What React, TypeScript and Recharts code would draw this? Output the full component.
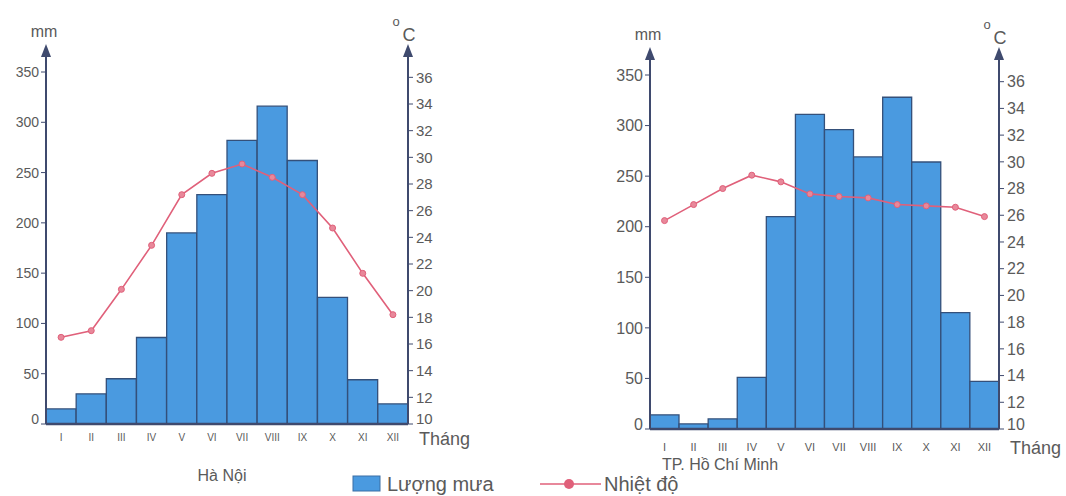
import React from 'react';
import { ComposedChart, Bar, Line, XAxis, YAxis } from 'recharts';

const months = ['I', 'II', 'III', 'IV', 'V', 'VI', 'VII', 'VIII', 'IX', 'X', 'XI', 'XII'];
const hanoiRain = [15, 30, 45, 86, 190, 228, 282, 316, 262, 126, 44, 20];
const hanoiTemp = [16.5, 17.0, 20.1, 23.4, 27.2, 28.8, 29.5, 28.5, 27.2, 24.7, 21.3, 18.2];
const hcmRain = [14, 5, 10, 51, 210, 311, 296, 269, 328, 264, 115, 47];
const hcmTemp = [25.6, 26.8, 28.0, 29.0, 28.5, 27.6, 27.4, 27.3, 26.8, 26.7, 26.6, 25.9];
const rainTicks = [0, 50, 100, 150, 200, 250, 300, 350];
const tempTicks = [10, 12, 14, 16, 18, 20, 22, 24, 26, 28, 30, 32, 34, 36];

const FONT = '"Liberation Sans", Arial, sans-serif';
const AXIS = '#3f4a6e';
const TEXT = '#5a5a5a';
const BAR_FILL = '#4a9ae0';
const BAR_STROKE = '#34507a';
const LINE = '#e0607a';

type ChartProps = {
  rain: number[];
  temp: number[];
  left: number;
  width: number;
  marginTop: number;
  xAxisHeight: number;
  marginRight: number;
  tempMax: number;
  xTickMargin: number;
  xFont: number;
  leftFont: number;
  rightFont: number;
  thangDy: number;
};

const ArrowUp = ({ ax, top }: { ax: number; top: number }) => (
  <g>
    <line x1={ax} x2={ax} y1={top} y2={top - 16} stroke={AXIS} strokeWidth={2} />
    <polygon points={`${ax - 5},${top - 15} ${ax + 5},${top - 15} ${ax},${top - 28}`} fill={AXIS} />
  </g>
);

const makeTick = (fontSize: number, anchor: 'start' | 'end', bottomValue: number) => (props: any) => {
  const { x, y, payload } = props;
  const lift = payload && payload.value === bottomValue ? -5 : 0;
  return (
    <text x={x} y={y + lift} dy="0.355em" textAnchor={anchor} fontSize={fontSize} fill={TEXT} fontFamily={FONT}>
      {payload ? payload.value : ''}
    </text>
  );
};

const ClimateChart = (p: ChartProps) => {
  const data = months.map((m, i) => ({ m, rain: p.rain[i], temp: p.temp[i] }));
  const leftLabel = (props: any) => {
    const vb = props.viewBox || {};
    const ax = (vb.x || 0) + (vb.width || 0);
    const top = vb.y || 0;
    return (
      <g>
        <ArrowUp ax={ax} top={top} />
        <text x={ax - 2} y={top - 35} textAnchor="middle" fontSize={16} fill={TEXT} fontFamily={FONT}>mm</text>
      </g>
    );
  };
  const rightLabel = (props: any) => {
    const vb = props.viewBox || {};
    const ax = vb.x || 0;
    const top = vb.y || 0;
    return (
      <g>
        <ArrowUp ax={ax} top={top} />
        <text x={ax - 12} y={top - 46} textAnchor="middle" fontSize={13} fill={TEXT} fontFamily={FONT}>o</text>
        <text x={ax + 1} y={top - 31} textAnchor="middle" fontSize={18} fill={TEXT} fontFamily={FONT}>C</text>
      </g>
    );
  };
  const xLabel = (props: any) => {
    const vb = props.viewBox || {};
    const x = (vb.x || 0) + (vb.width || 0);
    const y = vb.y || 0;
    return (
      <text x={x + 11} y={y + p.thangDy} fontSize={18} fill={TEXT} fontFamily={FONT}>Tháng</text>
    );
  };
  return (
    <div style={{ position: 'absolute', left: p.left, top: 0 }}>
      <ComposedChart
        width={p.width}
        height={496}
        data={data}
        barCategoryGap={0}
        barGap={0}
        margin={{ top: p.marginTop, right: p.marginRight, bottom: 0, left: 0 }}
        style={{ overflow: 'visible' }}
      >
        <XAxis
          dataKey="m"
          interval={0}
          height={p.xAxisHeight}
          tickLine={false}
          tickMargin={p.xTickMargin}
          axisLine={{ stroke: AXIS, strokeWidth: 2.5 }}
          tick={{ fontSize: p.xFont, fill: TEXT, fontFamily: FONT }}
          label={{ content: xLabel }}
        />
        <YAxis
          yAxisId="mm"
          orientation="left"
          width={50}
          domain={[0, 350]}
          ticks={rainTicks}
          allowDataOverflow
          tickSize={5}
          tickMargin={2}
          axisLine={{ stroke: AXIS, strokeWidth: 2 }}
          tickLine={{ stroke: AXIS }}
          tick={makeTick(p.leftFont, 'end', 0)}
          label={{ content: leftLabel }}
        />
        <YAxis
          yAxisId="t"
          orientation="right"
          width={50}
          domain={[10, p.tempMax]}
          ticks={tempTicks}
          allowDataOverflow
          tickSize={5}
          tickMargin={3}
          axisLine={{ stroke: AXIS, strokeWidth: 2 }}
          tickLine={{ stroke: AXIS }}
          tick={makeTick(p.rightFont, 'start', 10)}
          label={{ content: rightLabel }}
        />
        <Bar yAxisId="mm" dataKey="rain" fill={BAR_FILL} stroke={BAR_STROKE} strokeWidth={1.3} isAnimationActive={false} />
        <Line
          yAxisId="t"
          dataKey="temp"
          type="linear"
          stroke={LINE}
          strokeWidth={1.6}
          dot={{ r: 3, fill: '#e8889a', stroke: LINE, strokeWidth: 1 }}
          isAnimationActive={false}
        />
      </ComposedChart>
    </div>
  );
};

export default function App() {
  return (
    <div style={{ position: 'absolute', left: 0, top: 0, width: 1066, height: 496, background: '#fff', overflow: 'hidden', fontFamily: FONT }}>
      <ClimateChart
        rain={hanoiRain}
        temp={hanoiTemp}
        left={-4}
        width={474}
        marginTop={72}
        xAxisHeight={72}
        marginRight={12}
        tempMax={36.4}
        xTickMargin={4}
        xFont={10}
        leftFont={14}
        rightFont={15}
        thangDy={21}
      />
      <ClimateChart
        rain={hcmRain}
        temp={hcmTemp}
        left={600}
        width={466}
        marginTop={75}
        xAxisHeight={67}
        marginRight={17}
        tempMax={36.5}
        xTickMargin={8}
        xFont={11}
        leftFont={16}
        rightFont={16}
        thangDy={25}
      />
      <svg width={1066} height={496} style={{ position: 'absolute', left: 0, top: 0, pointerEvents: 'none' }}>
        <text x={222} y={481} textAnchor="middle" fontSize={16} fill={TEXT} fontFamily={FONT}>Hà Nội</text>
        <text x={720} y={470} textAnchor="middle" fontSize={16} fill={TEXT} fontFamily={FONT}>TP. Hồ Chí Minh</text>
        <rect x={353} y={476} width={27} height={15} fill={BAR_FILL} stroke="#3a6ea5" strokeWidth={1} />
        <text x={387} y={491} fontSize={20} fill={TEXT} fontFamily={FONT}>Lượng mưa</text>
        <line x1={540} x2={601} y1={484} y2={484} stroke={LINE} strokeWidth={1.6} />
        <circle cx={569} cy={484} r={5} fill={LINE} />
        <text x={604} y={491} fontSize={20} fill={TEXT} fontFamily={FONT}>Nhiệt độ</text>
      </svg>
    </div>
  );
}
